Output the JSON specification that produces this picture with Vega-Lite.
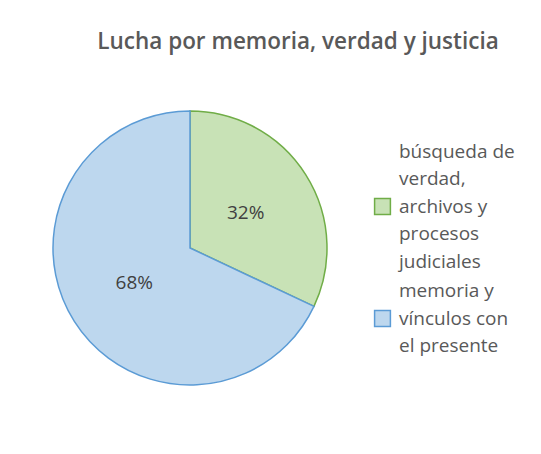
{
  "$schema": "https://vega.github.io/schema/vega-lite/v6.json",
  "width": 370,
  "height": 212,
  "autosize": {"type": "none"},
  "padding": {"left": 5, "top": 142, "right": 166, "bottom": 100},
  "background": "white",
  "title": {
    "text": "Lucha por memoria, verdad y justicia",
    "font": "Open Sans",
    "fontSize": 22.5,
    "fontWeight": 600,
    "color": "#595959",
    "anchor": "middle",
    "frame": "group",
    "offset": 55,
    "dx": 108
  },
  "data": {
    "values": [
      {"categoria": "búsqueda de verdad, archivos y procesos judiciales", "valor": 32, "pct": "32%", "orden": 1},
      {"categoria": "memoria y vínculos con el presente", "valor": 68, "pct": "68%", "orden": 2}
    ]
  },
  "encoding": {
    "theta": {"field": "valor", "type": "quantitative", "stack": true},
    "order": {"field": "orden", "type": "quantitative"}
  },
  "layer": [
    {
      "mark": {"type": "arc", "outerRadius": 137, "strokeWidth": 1.5},
      "encoding": {
        "fill": {
          "field": "categoria",
          "type": "nominal",
          "sort": ["búsqueda de verdad, archivos y procesos judiciales", "memoria y vínculos con el presente"],
          "scale": {"range": ["#C8E2B6", "#BDD7EE"]},
          "legend": {
            "title": null,
            "orient": "right",
            "offset": -57,
            "padding": 55,
            "symbolType": "square",
            "symbolSize": 250,
            "symbolStrokeWidth": 1.5,
            "labelFont": "Open Sans",
            "labelFontSize": 19,
            "labelColor": "#595959",
            "labelLimit": 200,
            "labelOffset": 7,
            "rowPadding": 10,
            "labelExpr": "datum.label == 'memoria y vínculos con el presente' ? ['memoria y', 'vínculos con', 'el presente'] : ['búsqueda de', 'verdad,', 'archivos y', 'procesos', 'judiciales']",
            "encode": {
              "labels": {"update": {"lineHeight": {"value": 27.5}, "dy": {"signal": "datum.value == 'memoria y vínculos con el presente' ? -27.5 : -55"}}},
              "symbols": {"update": {"stroke": {"scale": "stroke", "field": "value"}}}
            }
          }
        },
        "stroke": {
          "field": "categoria",
          "type": "nominal",
          "sort": ["búsqueda de verdad, archivos y procesos judiciales", "memoria y vínculos con el presente"],
          "scale": {"range": ["#70AD47", "#5B9BD5"]},
          "legend": null
        }
      }
    },
    {
      "mark": {"type": "text", "radius": 66, "font": "Open Sans", "fontSize": 19, "color": "#404040", "baseline": "middle", "align": "center"},
      "encoding": {
        "text": {"field": "pct", "type": "nominal"}
      }
    }
  ]
}
